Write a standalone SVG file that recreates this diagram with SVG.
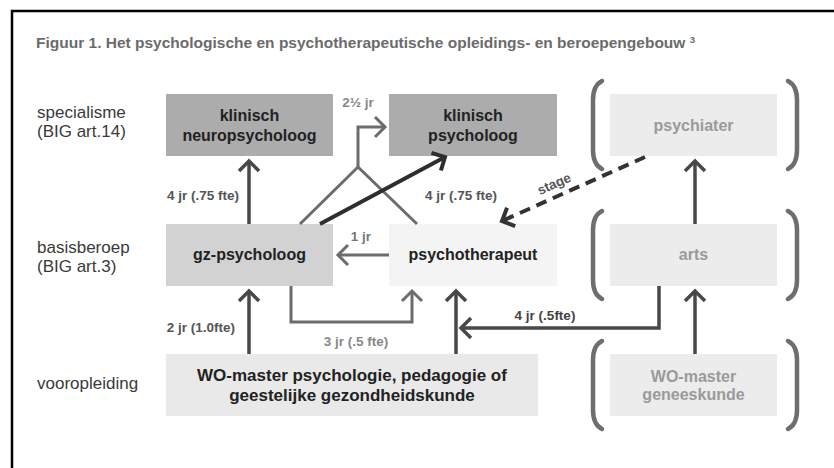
<svg xmlns="http://www.w3.org/2000/svg" width="834" height="468" viewBox="0 0 834 468">
<defs>
<style>
text{font-family:"Liberation Sans",Arial,sans-serif;}
.title{font-size:15.5px;font-weight:bold;fill:#6b6b6b;}
.row{font-size:17px;fill:#3a3a3a;}
.box-dark{fill:#acacac;}
.box-gz{fill:#d2d2d2;}
.box-pt{fill:#f4f4f4;}
.box-wo{fill:#e9e9e9;}
.box-med{fill:#ececec;}
.bt{font-size:16px;font-weight:bold;fill:#222;text-anchor:middle;}
.bt-big{font-size:17px;font-weight:bold;fill:#222;text-anchor:middle;}
.bt-light{font-size:16px;font-weight:bold;fill:#9a9a9a;text-anchor:middle;}
.br{fill:none;stroke:#6e6e6e;stroke-width:4.5;stroke-linecap:round;}
.lbl{font-size:13.5px;font-weight:bold;}
.ln-dark{fill:none;stroke:#484848;stroke-width:3.5;}
.ln-black{fill:none;stroke:#2e2e2e;stroke-width:4;}
.ln-gray{fill:none;stroke:#6c6c6c;stroke-width:3;}
.ln-dash{fill:none;stroke:#333;stroke-width:4;stroke-dasharray:11 7;}
</style>
<marker id="ad" markerUnits="userSpaceOnUse" viewBox="-15 -15 30 30" markerWidth="30" markerHeight="30" refX="0" refY="0" orient="auto" overflow="visible"><path d="M-10,-10 L0,0 L-10,10" fill="none" stroke="#484848" stroke-width="3.5"/></marker>
<marker id="ab" markerUnits="userSpaceOnUse" viewBox="-15 -15 30 30" markerWidth="30" markerHeight="30" refX="0" refY="0" orient="auto" overflow="visible"><path d="M-10,-10 L0,0 L-10,10" fill="none" stroke="#2e2e2e" stroke-width="4"/></marker>
<marker id="ag" markerUnits="userSpaceOnUse" viewBox="-15 -15 30 30" markerWidth="30" markerHeight="30" refX="0" refY="0" orient="auto" overflow="visible"><path d="M-10,-10 L0,0 L-10,10" fill="none" stroke="#6c6c6c" stroke-width="3"/></marker>
<marker id="as" markerUnits="userSpaceOnUse" viewBox="-15 -15 30 30" markerWidth="30" markerHeight="30" refX="0" refY="0" orient="auto" overflow="visible"><path d="M-10,-10 L0,0 L-10,10" fill="none" stroke="#333" stroke-width="4"/></marker>
</defs>
<rect width="834" height="468" fill="#fff"/>
<path d="M12,468 V11 H834" fill="none" stroke="#000" stroke-width="2.5"/>
<text class="title" x="36" y="48">Figuur 1. Het psychologische en psychotherapeutische opleidings- en beroepengebouw <tspan font-size="9.5" dy="-5">3</tspan></text>

<g id="row-labels">
<text class="row" x="37" y="118">specialisme</text>
<text class="row" x="37" y="137">(BIG art.14)</text>
<text class="row" x="37" y="253">basisberoep</text>
<text class="row" x="37" y="272">(BIG art.3)</text>
<text class="row" x="37" y="389">vooropleiding</text>
</g>

<g id="brackets">
<path class="br" d="M602,81 C596,84 593,90 593,100 V150 C593,160 596,166 602,169"/>
<path class="br" d="M788,81 C794,84 797,90 797,100 V150 C797,160 794,166 788,169"/>
<path class="br" d="M602,211 C596,214 593,220 593,230 V280 C593,290 596,296 602,299"/>
<path class="br" d="M788,211 C794,214 797,220 797,230 V280 C797,290 794,296 788,299"/>
<path class="br" d="M602,341 C596,344 593,350 593,360 V410 C593,420 596,426 602,429"/>
<path class="br" d="M788,341 C794,344 797,350 797,360 V410 C797,420 794,426 788,429"/>
</g>

<g id="n-klinisch-neuropsycholoog">
<rect class="box-dark" x="166" y="94" width="167" height="62"/>
<text class="bt" x="249.5" y="121">klinisch</text>
<text class="bt" x="249.5" y="141">neuropsycholoog</text>
</g>
<g id="n-klinisch-psycholoog">
<rect class="box-dark" x="389" y="94" width="168" height="62"/>
<text class="bt" x="473" y="121">klinisch</text>
<text class="bt" x="473" y="141">psycholoog</text>
</g>
<g id="n-psychiater">
<rect class="box-med" x="610" y="94" width="167" height="62"/>
<text class="bt-light" x="693.5" y="131">psychiater</text>
</g>
<g id="n-gz-psycholoog">
<rect class="box-gz" x="166" y="224" width="167" height="62"/>
<text class="bt" x="249.5" y="260">gz-psycholoog</text>
</g>
<g id="n-psychotherapeut">
<rect class="box-pt" x="389" y="224" width="168" height="62"/>
<text class="bt" x="473" y="260">psychotherapeut</text>
</g>
<g id="n-arts">
<rect class="box-med" x="610" y="224" width="167" height="62"/>
<text class="bt-light" x="693.5" y="260">arts</text>
</g>
<g id="n-wo-master-psychologie">
<rect class="box-wo" x="166" y="354" width="372" height="62"/>
<text class="bt-big" x="352" y="381">WO-master psychologie, pedagogie of</text>
<text class="bt-big" x="352" y="401">geestelijke gezondheidskunde</text>
</g>
<g id="n-wo-master-geneeskunde">
<rect class="box-med" x="610" y="354" width="167" height="62"/>
<text class="bt-light" x="693.5" y="382">WO-master</text>
<text class="bt-light" x="693.5" y="400">geneeskunde</text>
</g>

<g id="connectors">
<path class="ln-dark" d="M249,224 V161" marker-end="url(#ad)"/>
<path class="ln-gray" d="M300,224 L358,167 L417,224"/>
<path class="ln-gray" d="M358,167 V127 H385" marker-end="url(#ag)"/>
<path class="ln-black" d="M320,224 L445,157" marker-end="url(#ab)"/>
<path class="ln-dash" d="M645,157 L502,221" marker-end="url(#as)"/>
<path class="ln-gray" d="M389,255 H338" marker-end="url(#ag)"/>
<path class="ln-dark" d="M249,354 V291" marker-end="url(#ad)"/>
<path class="ln-gray" d="M291,286 V322 H412 V291" marker-end="url(#ag)"/>
<path class="ln-dark" d="M456,354 V291" marker-end="url(#ad)"/>
<path class="ln-dark" d="M659,286 V328 H461" marker-end="url(#ad)"/>
<path class="ln-dark" d="M695,224 V161" marker-end="url(#ad)"/>
<path class="ln-dark" d="M695,354 V291" marker-end="url(#ad)"/>
</g>

<g id="edge-labels">
<text class="lbl" x="358" y="107" text-anchor="middle" fill="#888">2½ jr</text>
<text class="lbl" x="239" y="200" text-anchor="end" fill="#555">4 jr (.75 fte)</text>
<text class="lbl" x="425" y="200" fill="#555">4 jr (.75 fte)</text>
<text class="lbl" x="0" y="0" text-anchor="middle" fill="#555" transform="translate(556,188) rotate(-24)">stage</text>
<text class="lbl" x="361" y="241" text-anchor="middle" fill="#777">1 jr</text>
<text class="lbl" x="235" y="332" text-anchor="end" fill="#555">2 jr (1.0fte)</text>
<text class="lbl" x="356" y="346" text-anchor="middle" fill="#888">3 jr (.5 fte)</text>
<text class="lbl" x="545" y="320" text-anchor="middle" fill="#444">4 jr (.5fte)</text>
</g>
</svg>
